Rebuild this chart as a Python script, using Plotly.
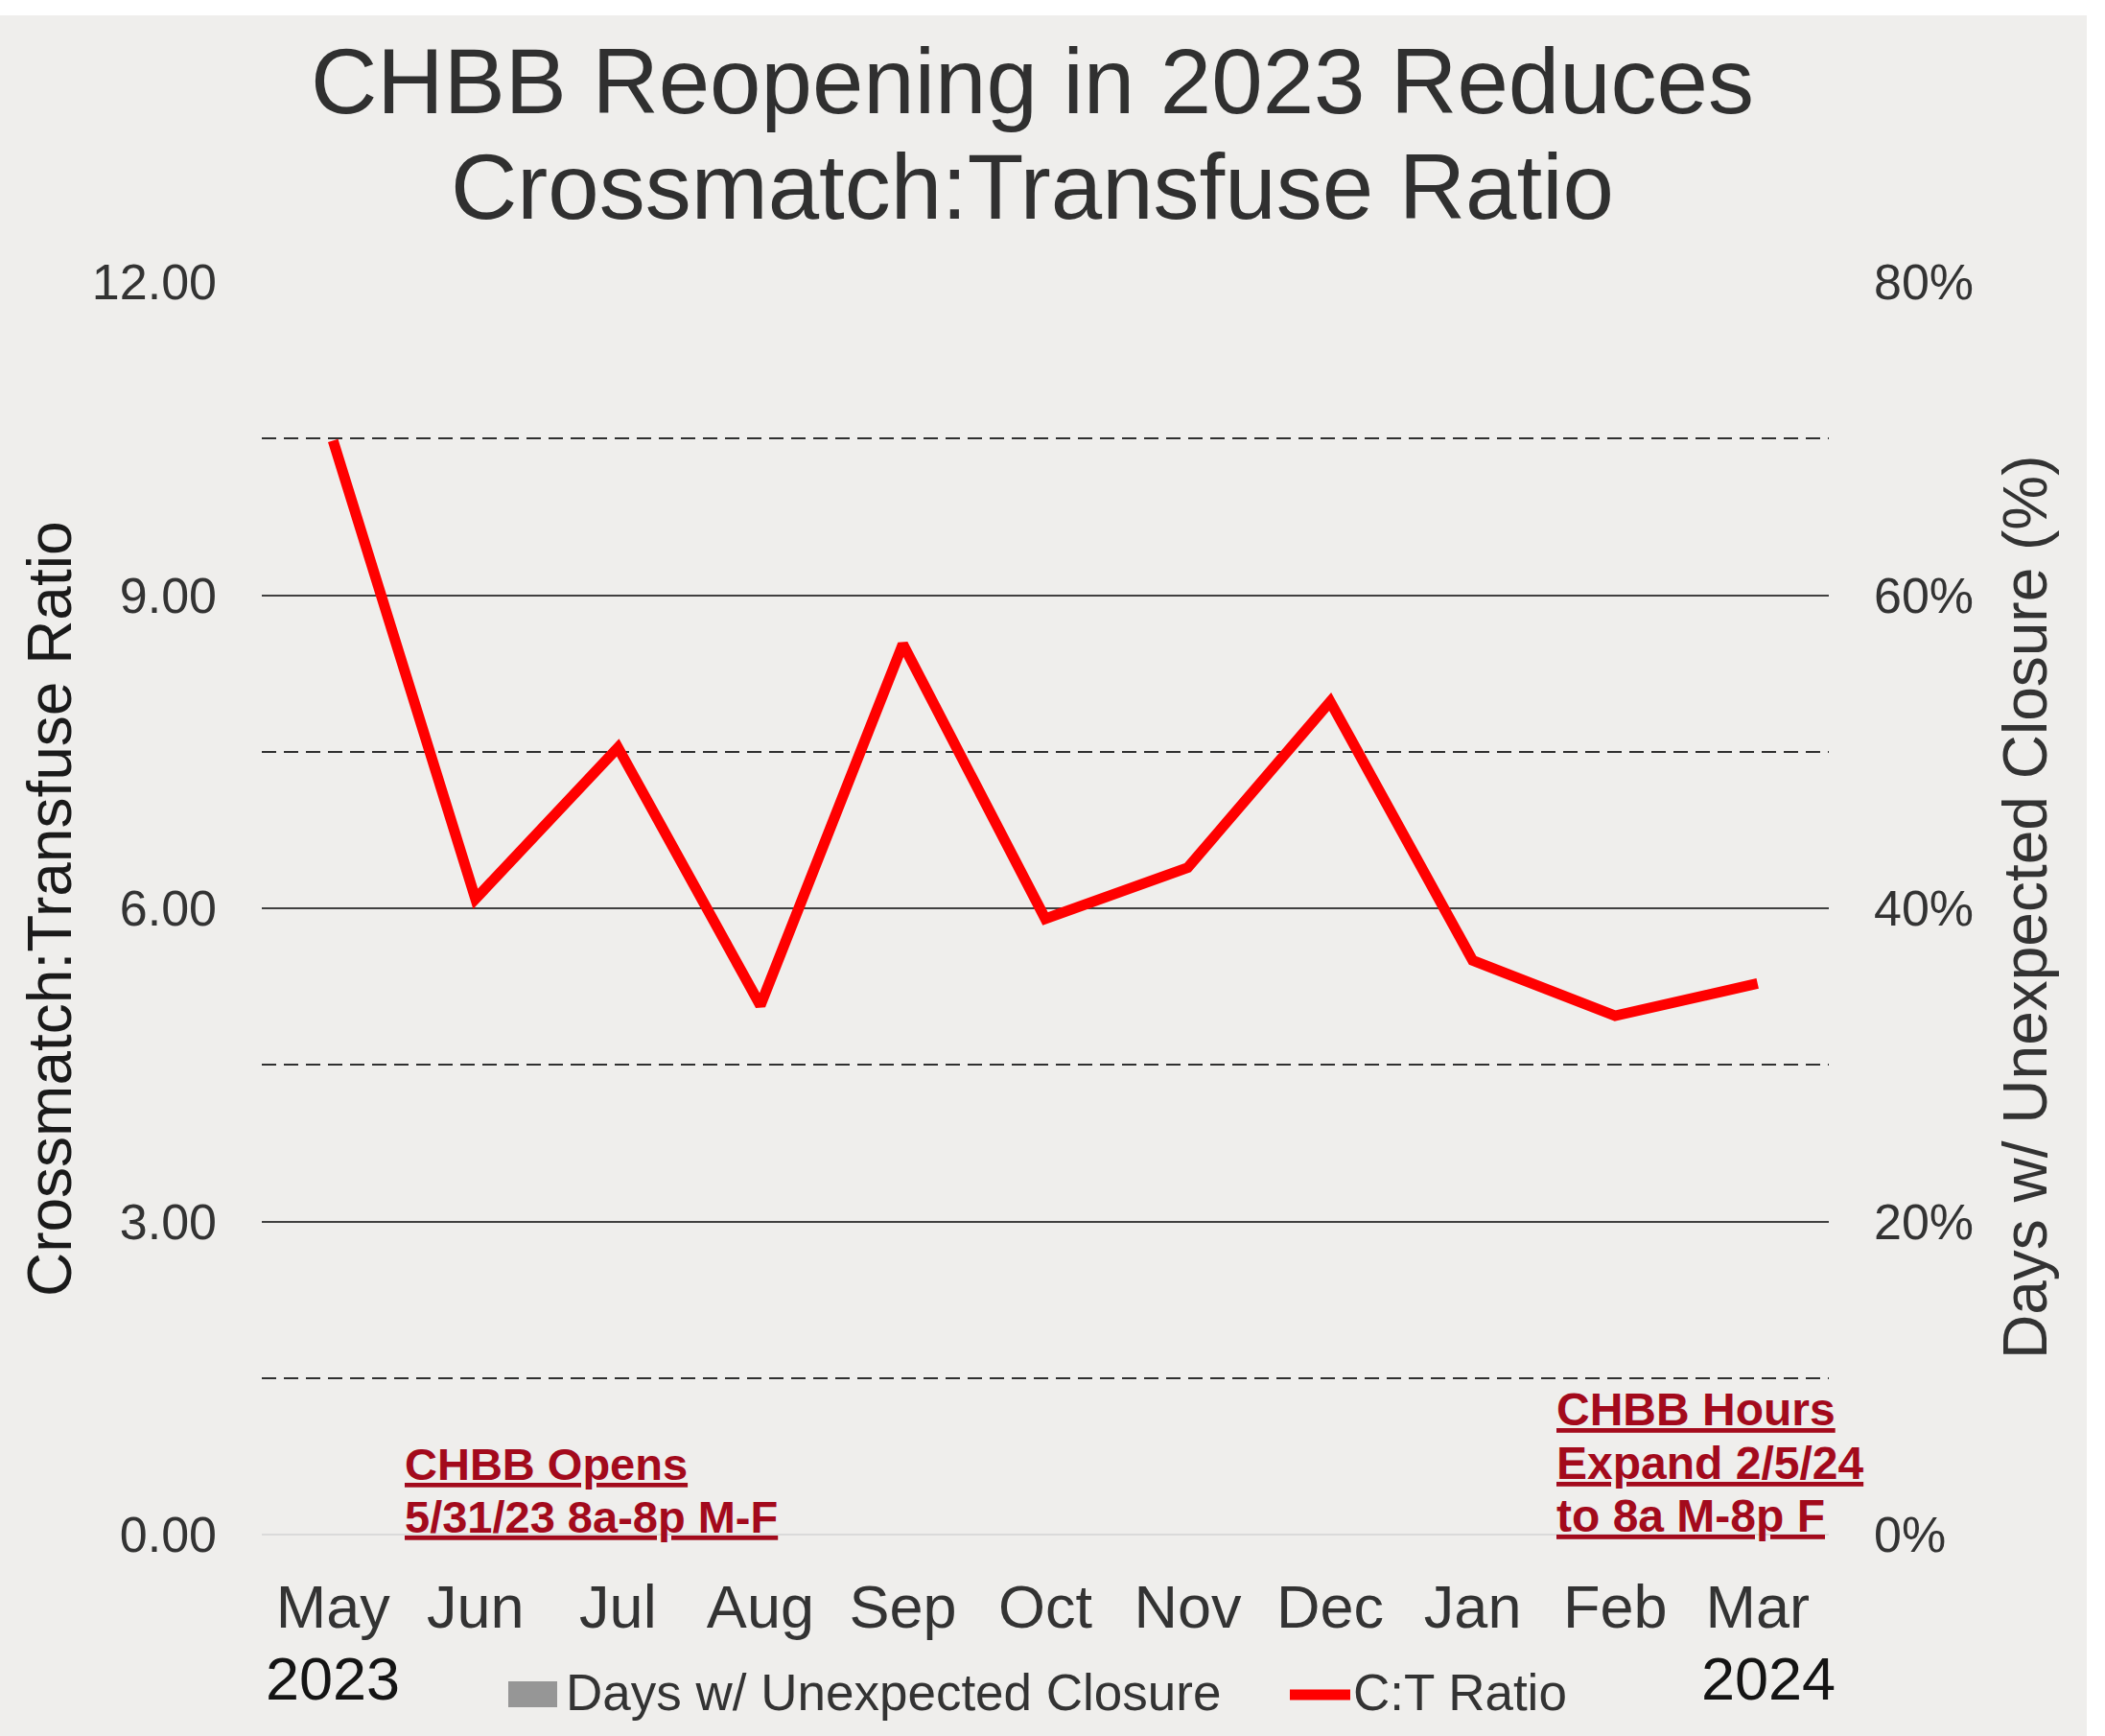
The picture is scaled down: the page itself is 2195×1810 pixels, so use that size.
import plotly.graph_objects as go

# ---- data ----
months = ["May", "Jun", "Jul", "Aug", "Sep", "Oct", "Nov", "Dec", "Jan", "Feb", "Mar"]
ct_ratio = [10.48, 6.09, 7.54, 5.07, 8.53, 5.90, 6.39, 7.98, 5.50, 4.97, 5.28]
closure_days_pct = [0, 0, 0, 0, 0, 0, 0, 0, 0, 0, 0]
year_labels = [("May", "2023"), ("Mar", "2024")]
left_ticks = [0, 3, 6, 9, 12]
right_ticks = [0, 0.2, 0.4, 0.6, 0.8]
right_minor = [0.1, 0.3, 0.5, 0.7]

title_lines = ["CHBB Reopening in 2023 Reduces", "Crossmatch:Transfuse Ratio"]
note_open = ["CHBB Opens", "5/31/23 8a-8p M-F"]
note_expand = ["CHBB Hours", "Expand 2/5/24", "to 8a M-8p F"]

# ---- page geometry (pixels) ----
W, H = 2195, 1810
L, R, T, B = 273, 1907, 294, 1600
FONT = "Liberation Sans, Arial, sans-serif"
BG = "#EFEEEC"
DARK = "#333333"
NOTE_RED = "#A30A1C"


def px_x(x):
    return (x - L) / (R - L)


def px_y(y):
    return (B - y) / (B - T)


def mid(baseline, size):
    # vertical centre of a single text line given its baseline
    return px_y(baseline - 0.3465 * size)


fig = go.Figure()

fig.add_trace(go.Bar(
    x=months, y=closure_days_pct, name="Days w/ Unexpected Closure",
    marker=dict(color="#969696", line=dict(width=0)), yaxis="y2",
    showlegend=False,
))
fig.add_trace(go.Scatter(
    x=months, y=ct_ratio, name="C:T Ratio", mode="lines",
    line=dict(color="#FF0000", width=11), showlegend=False,
))

shapes = [
    # chart background panel
    dict(type="rect", xref="paper", yref="paper", layer="below",
         x0=px_x(0), x1=px_x(2176), y0=px_y(1810), y1=px_y(16),
         fillcolor=BG, line=dict(width=0)),
    # legend keys
    dict(type="rect", xref="paper", yref="paper",
         x0=px_x(530), x1=px_x(581), y0=px_y(1780), y1=px_y(1753),
         fillcolor="#969696", line=dict(width=0)),
    dict(type="line", xref="paper", yref="paper",
         x0=px_x(1345), x1=px_x(1408), y0=px_y(1767), y1=px_y(1767),
         line=dict(color="#FF0000", width=11)),
]

annotations = []
# title
for text, base in zip(title_lines, [118, 228]):
    annotations.append(dict(
        text=text, xref="paper", yref="paper", x=px_x(1076), y=mid(base, 96),
        xanchor="center", yanchor="middle", showarrow=False,
        font=dict(family=FONT, size=96, color="#303030")))

# axis titles
annotations.append(dict(
    text="Crossmatch:Transfuse Ratio", xref="paper", yref="paper",
    x=px_x(52), y=px_y(948), xanchor="center", yanchor="middle",
    textangle=-90, showarrow=False,
    font=dict(family=FONT, size=64, color="#1A1A1A")))
annotations.append(dict(
    text="Days w/ Unexpected Closure (%)", xref="paper", yref="paper",
    x=px_x(2112), y=px_y(946), xanchor="center", yanchor="middle",
    textangle=-90, showarrow=False,
    font=dict(family=FONT, size=64, color=DARK)))

# year labels under the month ticks
for (m, yr), shift in zip(year_labels, [0, 11]):
    annotations.append(dict(
        text=yr, xref="x", yref="paper", x=m, xshift=shift, y=mid(1772, 63),
        xanchor="center", yanchor="middle", showarrow=False,
        font=dict(family=FONT, size=63, color="#141414")))

# event notes
for text, base in zip(note_open, [1543, 1598]):
    annotations.append(dict(
        text="<b><u>" + text + "</u></b>", xref="paper", yref="paper",
        x=px_x(420), y=mid(base, 47), xanchor="left", yanchor="middle",
        showarrow=False, font=dict(family=FONT, size=47, color=NOTE_RED)))
for text, base in zip(note_expand, [1486, 1542, 1597]):
    annotations.append(dict(
        text="<b><u>" + text + "</u></b>", xref="paper", yref="paper",
        x=px_x(1621), y=mid(base, 48), xanchor="left", yanchor="middle",
        showarrow=False, font=dict(family=FONT, size=48, color=NOTE_RED)))

# legend labels
for text, x0 in [("Days w/ Unexpected Closure", 588), ("C:T Ratio", 1409)]:
    annotations.append(dict(
        text=text, xref="paper", yref="paper", x=px_x(x0), y=mid(1783, 52),
        xanchor="left", yanchor="middle", showarrow=False,
        font=dict(family=FONT, size=53, color=DARK)))

fig.update_layout(
    width=W, height=H,
    margin=dict(l=L, r=W - R, t=T, b=H - B, autoexpand=False),
    paper_bgcolor="white", plot_bgcolor="rgba(0,0,0,0)",
    font=dict(family=FONT, color=DARK),
    showlegend=False, bargap=0.4,
    xaxis=dict(
        type="category", categoryorder="array", categoryarray=months,
        range=[-0.5, len(months) - 0.5], showgrid=False, zeroline=False,
        showline=False, ticks="", ticklabelstandoff=33,
        tickfont=dict(family=FONT, size=63, color=DARK)),
    yaxis=dict(
        range=[0, 12], tickmode="array", tickvals=left_ticks,
        tickformat=".2f", showgrid=True, gridcolor="#404040", gridwidth=1.5,
        zeroline=True, zerolinecolor="#DADADA", zerolinewidth=2,
        showline=False, ticks="", ticklabelstandoff=46,
        tickfont=dict(family=FONT, size=52, color=DARK)),
    yaxis2=dict(
        overlaying="y", side="right", range=[0, 0.8], tickmode="array",
        tickvals=right_ticks, tickformat=".0%", showgrid=False,
        zeroline=False, showline=False, ticks="", ticklabelstandoff=46,
        minor=dict(tickmode="array", tickvals=right_minor, showgrid=True,
                   gridcolor="#303030", gridwidth=2, griddash="15px,8px"),
        tickfont=dict(family=FONT, size=52, color=DARK)),
    shapes=shapes,
    annotations=annotations,
)

fig.write_html("out.html")
